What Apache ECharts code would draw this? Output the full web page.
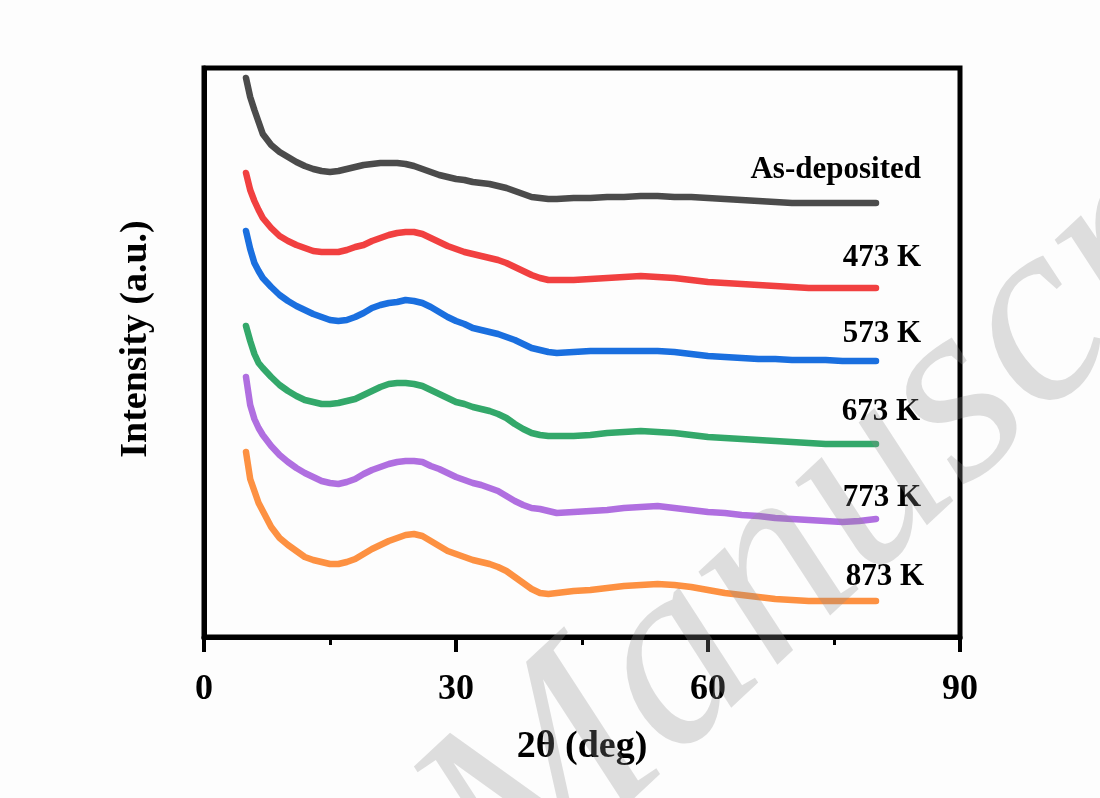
<!DOCTYPE html>
<html>
<head>
<meta charset="utf-8">
<script src="https://cdn.jsdelivr.net/npm/echarts@6/dist/echarts.min.js"></script>
<style>
  html, body { margin: 0; padding: 0; background: #fdfdfd; }
  #chart { width: 1100px; height: 798px; }
</style>
</head>
<body>
<div id="chart"></div>
<script>
// 2θ positions (deg) shared by all XRD scans
const angles = [
  5, 5.5, 6, 6.5, 7,
  8, 9, 10, 11, 12, 13, 14, 15, 16, 17, 18, 19, 20, 21, 22, 23, 24, 25,
  26, 27, 28, 29, 30, 31, 32, 33, 34, 35, 36, 37, 38, 39, 40, 41, 42,
  44, 46, 48, 50, 52, 54, 56, 58, 60, 62, 64, 66, 68, 70, 72, 74, 76, 78, 80
];

// Intensity (a.u.), curves already offset vertically for stacking
const asDeposited = [
  559, 540, 527, 515, 503,
  492, 485, 480, 475, 471, 468, 466, 465, 466, 468,
  470, 472, 473, 474, 474, 474, 473, 471, 468, 465,
  462, 460, 458, 457, 455, 454, 453, 451, 449, 446,
  443, 440, 439, 438, 438,
  439, 439, 440, 440, 441, 441, 440, 440, 439, 438, 437, 436, 435, 434, 434, 434, 434, 434, 434
];
const k473 = [
  464, 447, 436, 427, 419,
  409, 401, 396, 392, 389, 386, 385, 385, 385, 387,
  390, 392, 396, 399, 402, 404, 405, 405, 403, 399,
  395, 391, 388, 385, 383, 381, 379, 377, 374, 370,
  366, 362, 359, 357, 357,
  357, 358, 359, 360, 361, 360, 359, 357, 355, 354, 353, 352, 351, 350, 349, 349, 349, 349, 349
];
const k573 = [
  406, 388, 374, 366, 359,
  350, 342, 336, 331, 327, 323, 320, 317, 316, 317,
  320, 324, 329, 332, 334, 335, 337, 336, 334, 330,
  325, 320, 316, 313, 309, 307, 305, 303, 300, 297,
  293, 289, 287, 285, 284,
  285, 286, 286, 286, 286, 286, 285, 283, 281, 280, 279, 278, 278, 277, 277, 277, 276, 276, 276
];
const k673 = [
  311, 296, 283, 274, 269,
  260, 252, 246, 241, 237, 235, 233, 233, 234, 236,
  238, 242, 246, 250, 253, 254, 254, 253, 251, 247,
  243, 239, 235, 233, 230, 228, 226, 223, 219, 213,
  208, 204, 202, 201, 201,
  201, 202, 204, 205, 206, 205, 204, 202, 200, 199, 198, 197, 196, 195, 194, 193, 193, 193, 193
];
const k773 = [
  260, 232, 218, 209, 202,
  191, 182, 175, 169, 164, 160, 156, 154, 153, 155,
  158, 163, 167, 170, 173, 175, 176, 176, 175, 171,
  168, 164, 160, 157, 154, 152, 149, 146, 141, 136,
  132, 129, 128, 126, 124,
  125, 126, 127, 129, 130, 131, 129, 127, 125, 124, 122, 121, 119, 118, 117, 116, 115, 116, 118
];
const k873 = [
  185, 158, 146, 134, 126,
  110, 99, 92, 86, 80, 77, 75, 73, 73, 75,
  78, 83, 88, 92, 96, 99, 102, 103, 101, 96,
  91, 86, 83, 80, 77, 75, 73, 70, 66, 60,
  54, 48, 44, 43, 44,
  46, 47, 49, 51, 52, 53, 52, 50, 47, 44, 42, 40, 38, 37, 36, 36, 36, 36, 36
];

const seriesNames = ['As-deposited', '473 K', '573 K', '673 K', '773 K', '873 K'];
const seriesValues = [asDeposited, k473, k573, k673, k773, k873];
const seriesColors = ['#4b4b4b', '#f14040', '#1a6fdf', '#33a86a', '#b06fe0', '#fd9142'];

// x tick values
const xTicks = [0, 30, 60, 90];

const serif = '"Times New Roman", "Liberation Serif", serif';

const chart = echarts.init(document.getElementById('chart'), null, { renderer: 'canvas' });

const series = seriesValues.map((vals, i) => ({
  name: seriesNames[i],
  type: 'line',
  data: angles.map((a, j) => [a, vals[j]]),
  showSymbol: false,
  symbol: 'none',
  smooth: false,
  lineStyle: { color: seriesColors[i], width: 6.5, join: 'round', cap: 'round' },
  itemStyle: { color: seriesColors[i] },
  silent: true,
  z: 3
}));

// Curve labels at the right end of each trace
const labelPos = [
  { x: 921, y: 170 },
  { x: 921, y: 258 },
  { x: 921, y: 334 },
  { x: 920, y: 412 },
  { x: 921, y: 498 },
  { x: 924, y: 577 }
];

const graphic = seriesNames.map((name, i) => ({
  type: 'text',
  x: labelPos[i].x,
  y: labelPos[i].y,
  z: 10,
  silent: true,
  style: {
    text: name,
    font: 'bold 31px ' + serif,
    fill: '#000',
    align: 'right',
    textAlign: 'right',
    verticalAlign: 'middle',
    textVerticalAlign: 'middle'
  }
}));

graphic.push({
  type: 'text',
  x: 136,
  y: 339,
  rotation: Math.PI / 2,
  z: 10,
  silent: true,
  style: {
    text: 'Intensity (a.u.)',
    font: 'bold 38px ' + serif,
    fill: '#000',
    align: 'center',
    textAlign: 'center',
    verticalAlign: 'middle',
    textVerticalAlign: 'middle'
  }
});

// Journal watermark laid over the figure
graphic.push({
  type: 'text',
  x: 555,
  y: 958,
  rotation: 43 * Math.PI / 180,
  z: 100,
  silent: true,
  style: {
    text: 'Manuscript',
    font: 'italic 265px ' + serif,
    fill: 'rgba(140,140,140,0.28)',
    align: 'left',
    textAlign: 'left',
    verticalAlign: 'bottom',
    textVerticalAlign: 'bottom'
  }
});

chart.setOption({
  animation: false,
  backgroundColor: '#fdfdfd',
  grid: {
    left: 204, right: 140, top: 68, bottom: 161,
    show: true, borderColor: '#000', borderWidth: 5, backgroundColor: 'transparent'
  },
  xAxis: {
    type: 'value',
    min: xTicks[0],
    max: xTicks[xTicks.length - 1],
    interval: 30,
    name: '2θ (deg)',
    nameLocation: 'middle',
    nameGap: 91,
    nameTextStyle: { fontFamily: serif, fontWeight: 'bold', fontSize: 38, color: '#000' },
    axisLine: { show: true, lineStyle: { color: '#000', width: 5 } },
    axisTick: { show: true, inside: false, length: 15, lineStyle: { color: '#000', width: 4 } },
    minorTick: { show: true, splitNumber: 2, length: 8, lineStyle: { color: '#000', width: 3 } },
    axisLabel: {
      show: true, margin: 35, fontFamily: serif, fontWeight: 'bold', fontSize: 36, color: '#000',
      formatter: v => (xTicks.indexOf(v) >= 0 ? String(v) : '')
    },
    splitLine: { show: false },
    minorSplitLine: { show: false }
  },
  yAxis: {
    type: 'value',
    min: 0,
    max: 569,
    axisLine: { show: true, lineStyle: { color: '#000', width: 5 } },
    axisTick: { show: false },
    axisLabel: { show: false },
    splitLine: { show: false }
  },
  series: series,
  graphic: graphic
});
</script>
</body>
</html>
